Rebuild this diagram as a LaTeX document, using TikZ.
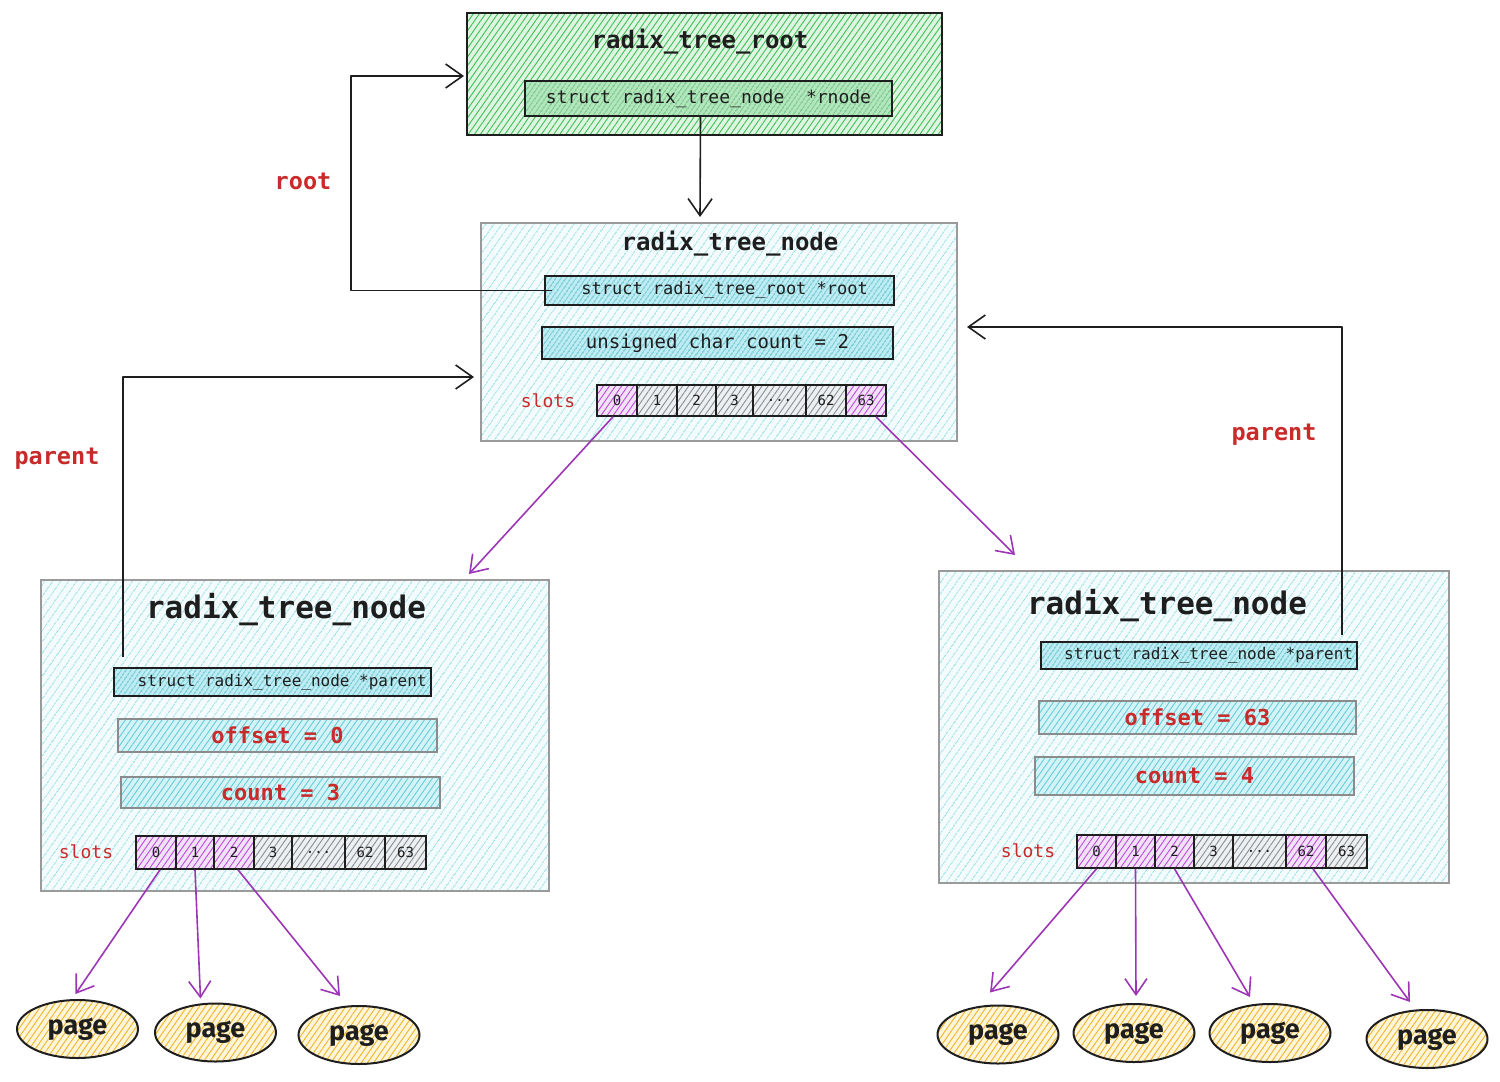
\documentclass[tikz,border=0pt]{standalone}
\usepackage{fontspec}
\setmainfont{Fira Sans}
\setmonofont{DejaVu Sans Mono}
\usetikzlibrary{patterns.meta,arrows.meta,shapes.geometric}
\definecolor{ink}{HTML}{1E1E1E}
\definecolor{redtxt}{HTML}{C92A2A}
\definecolor{purp}{HTML}{9C36B5}
\definecolor{bgray}{HTML}{9A9A9A}
\definecolor{greenbg}{HTML}{DDF5E1}
\definecolor{greenh}{HTML}{40C057}
\definecolor{greenfbg}{HTML}{B2E6BC}
\definecolor{greenfh}{HTML}{2B9E45}
\definecolor{cyanbg}{HTML}{F3FBFC}
\definecolor{cyanh}{HTML}{95DFE8}
\definecolor{cyanfbg}{HTML}{BDECF2}
\definecolor{cyanfh}{HTML}{1098AD}
\definecolor{cyanlbg}{HTML}{D3F3F7}
\definecolor{cyanlh}{HTML}{66CDD9}
\definecolor{purpbg}{HTML}{F1E2F8}
\definecolor{purph}{HTML}{BE4BDB}
\definecolor{graybg}{HTML}{EEEFF0}
\definecolor{grayh}{HTML}{868E96}
\definecolor{yelbg}{HTML}{FFF6DA}
\definecolor{yelh}{HTML}{F2B32A}
\newcommand{\myfs}[1]{\fontsize{#1}{#1}\selectfont}
\tikzset{
  hatched/.style n args={3}{preaction={fill=#1},
    pattern={Lines[angle=55,distance=#3,line width=0.9pt]}, pattern color=#2},
  rootbox/.style={hatched={greenbg}{greenh}{5pt}, draw=ink, line width=2pt, inner sep=0pt},
  greenfield/.style={hatched={greenfbg}{greenfh}{4pt}, draw=ink, line width=2pt, inner sep=0pt,
    font=\ttfamily\myfs{18}, text=ink},
  bigcyan/.style={hatched={cyanbg}{cyanh}{6.5pt}, draw=bgray, line width=2pt, inner sep=0pt},
  ptrfield/.style={hatched={cyanfbg}{cyanfh}{4pt}, draw=ink, line width=2pt, inner sep=0pt,
    font=\ttfamily\myfs{17}, text=ink},
  valfield/.style={hatched={cyanlbg}{cyanlh}{5pt}, draw=bgray!90!black, line width=2pt, inner sep=0pt,
    font=\ttfamily\bfseries\myfs{22}, text=redtxt},
  pslot/.style={hatched={purpbg}{purph}{5pt}, draw=ink, line width=1.6pt, inner sep=0pt,
    font=\ttfamily\myfs{14}, text=ink},
  gslot/.style={hatched={graybg}{grayh}{5pt}, draw=ink, line width=1.6pt, inner sep=0pt,
    font=\ttfamily\myfs{14}, text=ink},
  pagebox/.style={ellipse, hatched={yelbg}{yelh}{5pt}, draw=ink, line width=2pt, inner sep=0pt,
    minimum width=121pt, minimum height=58pt, font=\bfseries\myfs{27}, text=ink},
  titletxt/.style={font=\ttfamily\bfseries\myfs{24}, text=ink, inner sep=0pt},
  bigtitle/.style={font=\ttfamily\bfseries\myfs{31}, text=ink, inner sep=0pt},
  redlbl/.style={font=\ttfamily\bfseries\myfs{23.5}, text=redtxt, inner sep=0pt},
  slotlbl/.style={font=\ttfamily\myfs{18}, text=redtxt, inner sep=0pt},
  conn/.style={draw=ink, line width=1.6pt, line join=round,
    -{Straight Barb[length=17pt,width=24pt,line width=1.6pt]}},
  parr/.style={draw=purp, line width=1.6pt,
    -{Straight Barb[length=16pt,width=22pt,line width=1.6pt]}},
}
\begin{document}
\begin{tikzpicture}[x=1pt,y=-1pt]
\useasboundingbox (0,0) rectangle (1500,1082);

% ---------- root ----------
\node[rootbox, minimum width=475pt, minimum height=122pt] (root) at (704.5,74) {};
\node[titletxt] (roott) at (700,42) {radix\_tree\_root};
\node[greenfield, minimum width=367pt, minimum height=35pt] (rnode) at (708.5,98.5) {struct radix\_tree\_node\ \ *rnode};

% ---------- middle node ----------
\node[bigcyan, minimum width=476pt, minimum height=218pt] (mid) at (719,332) {};
\node[titletxt] (midt) at (730,244) {radix\_tree\_node};
\node[ptrfield, minimum width=349pt, minimum height=29pt] (mroot) at (719.5,290.5) {\ struct radix\_tree\_root *root};
\node[ptrfield, minimum width=351pt, minimum height=32pt, font=\ttfamily\myfs{19}] (mcount) at (717.5,343) {unsigned char count = 2};
\node[slotlbl] (mslots) at (548,401) {slots};
\node[pslot, minimum width=40pt, minimum height=31pt] (m0) at (617,400.5) {0};
\node[gslot, minimum width=40pt, minimum height=31pt] (m1) at (657,400.5) {1};
\node[gslot, minimum width=39pt, minimum height=31pt] (m2) at (696.5,400.5) {2};
\node[gslot, minimum width=37pt, minimum height=31pt] (m3) at (734.5,400.5) {3};
\node[gslot, minimum width=53pt, minimum height=31pt] (mdots) at (779.5,400.5) {...};
\node[gslot, minimum width=40pt, minimum height=31pt] (m62) at (826,400.5) {62};
\node[pslot, minimum width=40pt, minimum height=31pt] (m63) at (866,400.5) {63};

% ---------- left node ----------
\node[bigcyan, minimum width=508pt, minimum height=311pt] (left) at (295,735.5) {};
\node[bigtitle] (leftt) at (286,610) {radix\_tree\_node};
\node[ptrfield, minimum width=317pt, minimum height=28pt, font=\ttfamily\myfs{16}] (lptr) at (272.5,682) {\ \ struct radix\_tree\_node *parent};
\node[valfield, minimum width=319pt, minimum height=33pt] (loff) at (277.5,735.5) {offset = 0};
\node[valfield, minimum width=319pt, minimum height=31pt] (lcnt) at (280.5,792.5) {count = 3};
\node[slotlbl] (lslots) at (86,852) {slots};
\node[pslot, minimum width=40pt, minimum height=33pt] (l0) at (156,852.5) {0};
\node[pslot, minimum width=38pt, minimum height=33pt] (l1) at (195,852.5) {1};
\node[pslot, minimum width=40pt, minimum height=33pt] (l2) at (234,852.5) {2};
\node[gslot, minimum width=38pt, minimum height=33pt] (l3) at (273,852.5) {3};
\node[gslot, minimum width=53pt, minimum height=33pt] (ldots) at (318.5,852.5) {...};
\node[gslot, minimum width=40pt, minimum height=33pt] (l62) at (365,852.5) {62};
\node[gslot, minimum width=41pt, minimum height=33pt] (l63) at (405.5,852.5) {63};

% ---------- right node ----------
\node[bigcyan, minimum width=510pt, minimum height=312pt] (right) at (1194,727) {};
\node[bigtitle] (rightt) at (1167,606) {radix\_tree\_node};
\node[ptrfield, minimum width=316pt, minimum height=27pt, font=\ttfamily\myfs{16}] (rptr) at (1199,655.5) {\ \ struct radix\_tree\_node *parent};
\node[valfield, minimum width=317pt, minimum height=33pt] (roff) at (1197.5,717.5) {offset = 63};
\node[valfield, minimum width=319pt, minimum height=38pt] (rcnt) at (1194.5,776) {count = 4};
\node[slotlbl] (rslots) at (1028,851) {slots};
\node[pslot, minimum width=39pt, minimum height=33pt] (r0) at (1096.5,851.5) {0};
\node[pslot, minimum width=39pt, minimum height=33pt] (r1) at (1135.5,851.5) {1};
\node[pslot, minimum width=39pt, minimum height=33pt] (r2) at (1174.5,851.5) {2};
\node[gslot, minimum width=39pt, minimum height=33pt] (r3) at (1213.5,851.5) {3};
\node[gslot, minimum width=53pt, minimum height=33pt] (rdots) at (1259.5,851.5) {...};
\node[pslot, minimum width=40pt, minimum height=33pt] (r62) at (1306,851.5) {62};
\node[gslot, minimum width=41pt, minimum height=33pt] (r63) at (1346.5,851.5) {63};

% ---------- pages ----------
\node[pagebox] (lp1) at (77.5,1029) {page};
\node[pagebox] (lp2) at (215.5,1032.5) {page};
\node[pagebox] (lp3) at (359,1035) {page};
\node[pagebox] (rp1) at (998,1034.5) {page};
\node[pagebox] (rp2) at (1134,1033) {page};
\node[pagebox] (rp3) at (1270,1033) {page};
\node[pagebox] (rp4) at (1427,1039) {page};

% ---------- labels ----------
\node[redlbl] (lblroot) at (303,181) {root};
\node[redlbl] (lblpl) at (57,459) {parent};
\node[redlbl] (lblpr) at (1274,435) {parent};

% ---------- connectors ----------
\coordinate (rcorner) at (351,76);
\draw[conn] ([xshift=8pt]mroot.west) -| (rcorner) -- ([xshift=-2pt,yshift=-2pt]root.west);
\draw[conn] ([xshift=-8pt]rnode.south) -- ([xshift=-19pt,yshift=5pt]mid.north);
\draw[conn] ([xshift=10pt,yshift=10pt]lptr.north west) |- ([xshift=-6pt,yshift=-45pt]mid.west);
\draw[conn] ([xshift=-16pt,yshift=6pt]rptr.north east) |- ([xshift=9pt,yshift=5pt]mid.east);

\draw[parr] ([xshift=-4pt]m0.south) -- ([xshift=-81pt,yshift=5pt]left.north east);
\draw[parr] ([xshift=10pt]m63.south) -- ([xshift=77pt,yshift=15pt]right.north west);

\draw[parr] ([xshift=4pt]l0.south) -- ([xshift=-2pt,yshift=5pt]lp1.north);
\draw[parr] (l1.south) -- ([xshift=-15pt,yshift=4pt]lp2.north);
\draw[parr] ([xshift=4pt]l2.south) -- ([xshift=-19pt,yshift=9pt]lp3.north);

\draw[parr] (r0.south) -- ([xshift=-8pt,yshift=12pt]rp1.north);
\draw[parr] (r1.south) -- ([xshift=2pt,yshift=7pt]rp2.north);
\draw[parr] (r2.south) -- ([xshift=-20pt,yshift=6pt]rp3.north);
\draw[parr] ([xshift=7pt]r62.south) -- ([xshift=-17pt,yshift=7pt]rp4.north);
\end{tikzpicture}
\end{document}
